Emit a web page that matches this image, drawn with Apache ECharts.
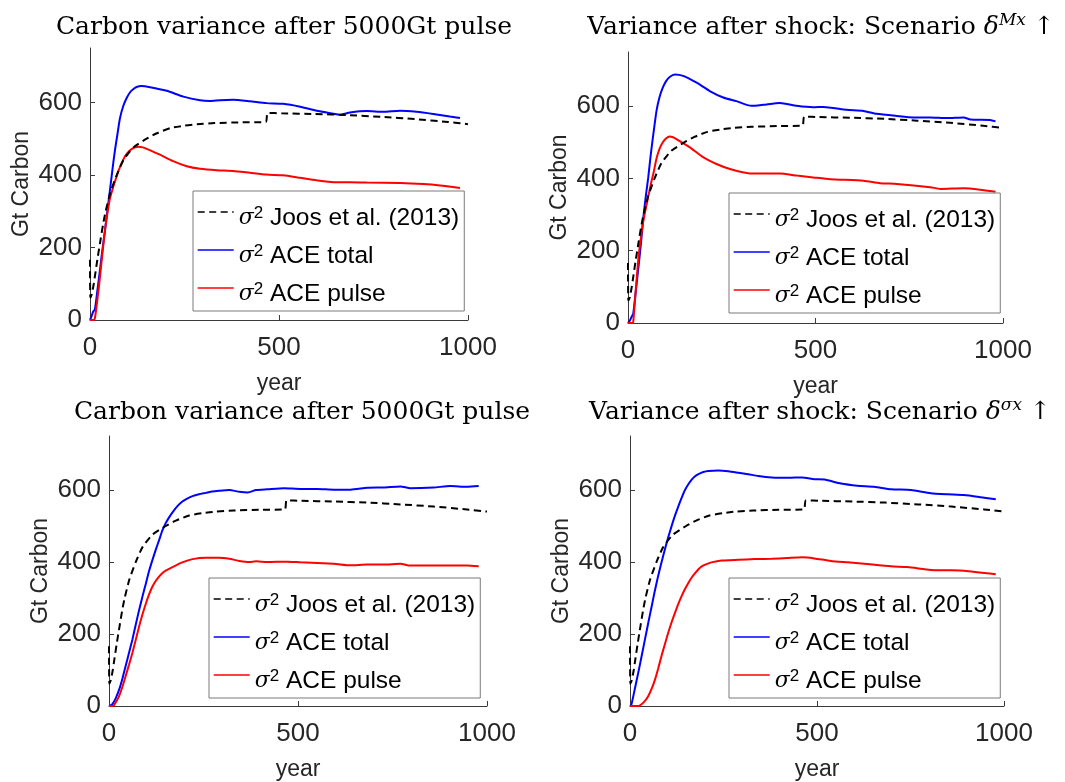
<!DOCTYPE html>
<html>
<head>
<meta charset="utf-8">
<script src="https://cdn.jsdelivr.net/npm/echarts@6/dist/echarts.min.js"></script>
<style>
html,body{margin:0;padding:0;background:#fff;}
#chart{width:1065px;height:782px;}
</style>
</head>
<body>
<div id="chart"></div>
<script>
// ---- data ----
const xTicks = [0, 500, 1000];
const yTicks = [0, 200, 400, 600];
const legendNames = ['Joos', 'total', 'pulse'];
const legendLabels = ['Joos et al. (2013)', 'ACE total', 'ACE pulse'];

const joos = [[0,166],[1,62],[5,72],[10,100],[15,135],[20,170],[28,222],[35,266],[41,298],[54,352],[72,403],[89,442],[115,476],[150,500],[177,515],[212,529],[250,536],[283,540],[330,543],[398,545],[465,546],[470,571],[507,570],[595,568],[683,565],[771,560],[859,554],[947,546],[1000,540]];

const p1Total = [[0,0],[4,10],[8,22],[13,30],[20,85],[26,135],[33,195],[40,250],[47,310],[53,360],[60,420],[66,468],[73,515],[79,555],[88,590],[97,612],[106,628],[115,637],[125,643],[135,645],[159,642],[203,632],[247,616],[291,606],[317,604],[344,606],[379,607],[423,603],[467,598],[511,596],[556,588],[600,577],[644,569],[660,566],[688,572],[732,576],[776,574],[820,577],[864,574],[908,568],[952,561],[979,557]];
const p1Pulse = [[0,0],[10,0],[13,5],[20,60],[26,115],[33,185],[40,250],[47,300],[53,336],[60,362],[66,382],[75,410],[84,433],[93,452],[101,463],[110,471],[119,476],[128,478],[140,476],[150,472],[185,456],[220,438],[256,424],[291,417],[335,413],[379,411],[423,406],[467,401],[511,399],[556,392],[600,385],[644,380],[688,380],[732,379],[820,378],[882,375],[926,371],[979,364]];

const p2Total = [[0,0],[5,7],[10,18],[14,26],[21,90],[28,155],[35,225],[41,293],[48,355],[54,403],[60,460],[66,510],[76,587],[84,625],[93,652],[102,670],[111,681],[125,688],[147,684],[183,665],[218,642],[254,624],[289,614],[329,601],[361,604],[405,609],[450,601],[494,597],[521,598],[583,590],[628,587],[663,579],[717,573],[761,569],[806,569],[850,567],[895,569],[913,563],[966,562],[980,558]];
const p2Pulse = [[0,0],[12,0],[14,3],[21,95],[28,182],[35,240],[41,283],[48,320],[54,350],[61,385],[68,415],[76,455],[84,482],[93,500],[102,511],[111,516],[120,514],[129,509],[165,486],[200,459],[236,440],[272,426],[325,414],[361,414],[405,414],[450,408],[494,403],[539,398],[628,394],[672,387],[717,385],[806,376],[833,371],[895,373],[939,369],[980,363]];

const p3Total = [[0,0],[4,2],[9,5],[18,22],[27,46],[36,78],[44,111],[53,148],[62,185],[71,227],[80,268],[89,306],[98,342],[106,375],[115,406],[124,435],[133,462],[141,487],[150,508],[159,524],[168,538],[181,555],[194,568],[208,577],[221,583],[238,588],[256,592],[273,596],[291,598],[318,600],[345,595],[367,593],[389,600],[419,602],[463,605],[507,603],[551,603],[595,601],[639,601],[683,606],[727,607],[771,610],[797,605],[859,607],[903,611],[947,609],[978,611]];
const p3Pulse = [[0,0],[9,0],[13,2],[20,14],[27,28],[35,52],[44,83],[53,115],[62,148],[71,185],[80,222],[89,256],[98,286],[106,310],[115,332],[124,348],[133,360],[141,369],[150,376],[168,386],[194,399],[221,408],[256,412],[291,412],[318,409],[345,403],[371,400],[389,402],[419,400],[471,401],[507,399],[595,395],[639,391],[683,393],[727,393],[771,395],[797,390],[859,390],[947,390],[978,388]];

const p4Total = [[0,0],[4,5],[13,48],[22,92],[31,138],[40,185],[49,232],[58,277],[66,318],[75,360],[84,398],[93,434],[102,468],[111,499],[120,528],[129,554],[138,578],[147,600],[156,616],[165,629],[174,638],[183,644],[196,650],[209,653],[236,654],[263,652],[290,648],[316,644],[343,639],[379,635],[424,634],[460,635],[493,630],[520,629],[564,618],[608,612],[653,609],[698,602],[751,600],[804,591],[849,588],[893,586],[938,580],[978,574]];
const p4Pulse = [[0,0],[22,0],[31,5],[40,14],[49,28],[58,48],[67,74],[75,103],[84,138],[93,171],[102,203],[111,232],[120,258],[129,283],[138,305],[147,325],[156,342],[165,357],[174,369],[183,380],[192,388],[205,394],[218,399],[245,404],[290,406],[334,408],[379,409],[420,411],[460,413],[493,410],[537,403],[582,399],[626,395],[698,388],[742,386],[804,378],[849,377],[893,376],[978,366]];

const panelData = [
  {total: p1Total, pulse: p1Pulse},
  {total: p2Total, pulse: p2Pulse},
  {total: p3Total, pulse: p3Pulse},
  {total: p4Total, pulse: p4Pulse}
];

// ---- layout ----
const grids = [
  {left: 90, top: 48, width: 378, height: 272},
  {left: 628, top: 52, width: 375, height: 271},
  {left: 109, top: 436, width: 378, height: 271},
  {left: 630, top: 436, width: 374, height: 271}
];
const titleTexts = [
  'Carbon variance after 5000Gt pulse',
  '{n|Variance after shock: Scenario }{d|δ}{s|Mx}{n| ↑}',
  'Carbon variance after 5000Gt pulse',
  '{n|Variance after shock: Scenario }{d|δ}{s|σx}{n| ↑}'
];
const titlePos = [{x: 279, y: 7}, {x: 816, y: 7}, {x: 297, y: 392}, {x: 815, y: 392}];
const legendPos = [{x: 193, y: 191}, {x: 729, y: 193}, {x: 209, y: 578}, {x: 729, y: 578}];

const serif = 'DejaVu Serif';
const sans = 'Liberation Sans';
const axisColor = '#3a3a3a';
const textColor = '#262626';

const option = {
  backgroundColor: '#fff',
  animation: false,
  title: titleTexts.map((t, i) => ({
    text: t,
    left: titlePos[i].x,
    top: titlePos[i].y,
    textAlign: 'center',
    textStyle: {
      fontFamily: serif, fontSize: 25, fontWeight: 'normal', color: '#000', lineHeight: 30,
      rich: {
        n: {fontFamily: serif, fontSize: 25, color: '#000', lineHeight: 30},
        d: {fontFamily: serif, fontSize: 25, fontStyle: 'italic', color: '#000', lineHeight: 30},
        s: {fontFamily: serif, fontSize: 17, fontStyle: 'italic', color: '#000', lineHeight: 17, verticalAlign: 'top'}
      }
    }
  })),
  grid: grids.map(g => Object.assign({containLabel: false}, g)),
  xAxis: grids.map((g, i) => ({
    gridIndex: i, type: 'value', min: 0, max: 1000,
    axisLine: {show: true, onZero: false, lineStyle: {color: axisColor, width: 1}},
    axisTick: {show: true, inside: true, length: 5, customValues: xTicks, lineStyle: {color: axisColor}},
    axisLabel: {customValues: xTicks, fontFamily: sans, fontSize: 26, color: textColor, margin: 15,
      formatter: v => String(v)},
    splitLine: {show: false},
    name: 'year', nameLocation: 'middle', nameGap: 52,
    nameTextStyle: {fontFamily: sans, fontSize: 23, color: textColor}
  })),
  yAxis: grids.map((g, i) => ({
    gridIndex: i, type: 'value', min: 0, max: 750,
    axisLine: {show: true, onZero: false, lineStyle: {color: axisColor, width: 1}},
    axisTick: {show: true, inside: true, length: 5, customValues: yTicks, lineStyle: {color: axisColor}},
    axisLabel: {customValues: yTicks, fontFamily: sans, fontSize: 26, color: textColor, margin: 8,
      formatter: v => String(v)},
    splitLine: {show: false},
    name: 'Gt Carbon', nameLocation: 'middle', nameGap: 57,
    nameTextStyle: {fontFamily: sans, fontSize: 23, color: textColor}
  })),
  legend: legendPos.map(p => ({
    data: legendNames,
    orient: 'vertical',
    left: p.x, top: p.y,
    itemWidth: 36, itemHeight: 14, itemGap: 0,
    padding: [2, 5, 4, 4],
    backgroundColor: '#fff',
    borderColor: '#7a7a7a', borderWidth: 1, borderRadius: 0,
    selectedMode: false,
    itemStyle: {opacity: 0},
    lineStyle: {width: 1.4},
    formatter: name => '{s|σ}{p|2} ' + legendLabels[legendNames.indexOf(name)],
    textStyle: {
      fontFamily: sans, fontSize: 24.5, color: '#000', lineHeight: 26,
      padding: [12, 0, 0, 0],
      rich: {
        s: {fontFamily: serif, fontStyle: 'italic', fontSize: 22, color: '#000', lineHeight: 26},
        p: {fontFamily: sans, fontSize: 17, color: '#000', lineHeight: 17, verticalAlign: 'top'}
      }
    }
  })),
  series: []
};

panelData.forEach((pd, i) => {
  option.series.push({
    name: 'Joos', type: 'line', xAxisIndex: i, yAxisIndex: i, data: joos,
    showSymbol: false, symbol: 'none', smooth: 0.2,
    lineStyle: {color: '#000', width: 2, type: [7, 4.5]}, itemStyle: {color: '#000'}, z: 3
  });
  option.series.push({
    name: 'total', type: 'line', xAxisIndex: i, yAxisIndex: i, data: pd.total,
    showSymbol: false, symbol: 'none', smooth: 0.2,
    lineStyle: {color: '#0000ff', width: 2}, itemStyle: {color: '#0000ff'}, z: 2
  });
  option.series.push({
    name: 'pulse', type: 'line', xAxisIndex: i, yAxisIndex: i, data: pd.pulse,
    showSymbol: false, symbol: 'none', smooth: 0.2,
    lineStyle: {color: '#ff0000', width: 2}, itemStyle: {color: '#ff0000'}, z: 2
  });
});

const chart = echarts.init(document.getElementById('chart'), null, {renderer: 'canvas'});
chart.setOption(option);
</script>
</body>
</html>
